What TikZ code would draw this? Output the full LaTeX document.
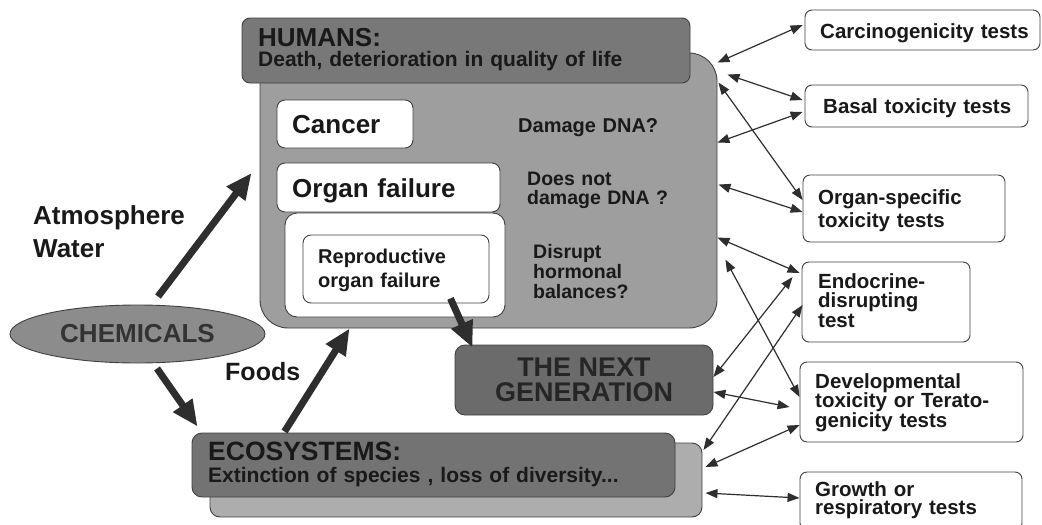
\documentclass[tikz,border=0pt]{standalone}
\usepackage{fontspec}
\setmainfont{Liberation Sans}
\usetikzlibrary{arrows.meta,shapes.geometric,positioning}
\newcommand{\fsz}[2]{\fontsize{#1}{#2}\selectfont\bfseries}
\begin{document}
\begin{tikzpicture}[x=1pt,y=-1pt,
  box/.style={draw=black!75,line width=0.9pt,rounded corners=8pt,inner sep=0pt},
  testbox/.style={box,fill=white,rounded corners=7pt},
  lbl/.style={inner sep=0pt,anchor=base west,text=black!90,align=left,text width=#1},
  lbl/.default=460pt,
  flow/.style={draw=black!82,line width=7pt,-{Triangle[length=26pt,width=22pt]}},
  link/.style={draw=black!82,line width=1.2pt,{Triangle[length=12pt,width=9pt]}-{Triangle[length=12pt,width=9pt]}}]
\useasboundingbox (0,0) rectangle (1042,525);
% humans
\node[box,fill=black!38,rounded corners=28pt,minimum width=457pt,minimum height=275pt] (body) at (488.5,190.5) {};
\node[box,fill=black!53,minimum width=448pt,minimum height=65pt] (head) at (466,50.5) {};
\node[lbl,font=\fsz{26}{28}] (headt) at (258,46) {HUMANS:};
\node[lbl,font=\fsz{21}{24}] (headd) at (258,66) {Death, deterioration in quality of life};
\node[box,fill=white,minimum width=136pt,minimum height=48pt] (cancer) at (345,124) {};
\node[lbl,font=\fsz{26}{28}] (cancert) at (292,133) {Cancer};
\node[box,fill=white,rounded corners=12pt,minimum width=220pt,minimum height=104pt] (reprout) at (395,265) {};
\node[box,fill=white,minimum width=223pt,minimum height=49pt] (organ) at (388.5,187.5) {};
\node[lbl,font=\fsz{26}{28}] (organt) at (292,197) {Organ failure};
\node[box,fill=white,minimum width=186pt,minimum height=68pt] (repro) at (396,269) {};
\node[lbl,font=\fsz{20}{24}] (reprot) at (318,263) {Reproductive\\organ failure};
\node[lbl,font=\fsz{20}{20}] (dna) at (518,132) {Damage DNA?};
\node[lbl,font=\fsz{19.5}{19}] (nodna) at (527,185) {Does not\\damage DNA ?};
\node[lbl,font=\fsz{19.5}{20}] (horm) at (533,258) {Disrupt\\hormonal\\balances?};
% sources
\node[ellipse,draw=black!75,line width=0.9pt,fill=black!45,minimum width=255pt,minimum height=58pt,inner sep=0pt,font=\fsz{26}{28},text=black!80] (chem) at (137.5,334) {CHEMICALS};
\node[lbl,font=\fsz{26}{33}] (air) at (33,224) {Atmosphere\\Water};
\node[lbl,font=\fsz{25}{28}] (foods) at (225,380) {Foods};
% next generation and ecosystems
\node[box,fill=black!58,rounded corners=10pt,minimum width=258pt,minimum height=70pt,align=center,font=\fsz{27}{25},text=black!85] (next) at (584,380) {THE NEXT\\GENERATION};
\node[box,fill=black!32,rounded corners=10pt,minimum width=492pt,minimum height=74pt] (ecoback) at (456,480) {};
\node[box,fill=black!55,rounded corners=10pt,minimum width=483pt,minimum height=64pt] (eco) at (433.5,465) {};
\node[lbl,font=\fsz{26.5}{28}] (ecot) at (208,460) {ECOSYSTEMS:};
\node[lbl,font=\fsz{21}{24}] (ecod) at (208,482) {Extinction of species , loss of diversity...};
% tests
\node[testbox,minimum width=235pt,minimum height=40pt] (carc) at (922.5,30) {};
\node[lbl,font=\fsz{20.5}{19.5}] (carct) at (820,38) {Carcinogenicity tests};
\node[testbox,minimum width=223pt,minimum height=42pt] (basal) at (916.5,106) {};
\node[lbl,font=\fsz{20.5}{19.5}] (basalt) at (823,113) {Basal toxicity tests};
\node[testbox,minimum width=202pt,minimum height=67pt] (organs) at (904,208.5) {};
\node[lbl,font=\fsz{20.5}{23}] (organst) at (818,204) {Organ-specific\\toxicity tests};
\node[testbox,minimum width=168pt,minimum height=80pt] (endo) at (886,302) {};
\node[lbl,font=\fsz{20.5}{19.5}] (endot) at (818,288) {Endocrine-\\disrupting\\test};
\node[testbox,minimum width=223pt,minimum height=80pt] (devel) at (911.5,402) {};
\node[lbl,font=\fsz{20.5}{19.5}] (develt) at (815,388) {Developmental\\toxicity or Terato-\\genicity tests};
\node[testbox,minimum width=222pt,minimum height=58pt] (growth) at (911,501) {};
\node[lbl,font=\fsz{20.5}{18.5}] (growtht) at (815,496) {Growth or\\respiratory tests};
% exposure routes
\draw[flow] ([shift={(20.5,-8)}]chem.north) -- ([shift={(-8,-17.5)}]body.west);
\draw[flow] ([shift={(19.5,5)}]chem.south) -- ([shift={(6,-6)}]eco.north west);
\draw[flow] ([shift={(93,-1)}]eco.north west) -- ([shift={(90,0)}]body.south west);
\draw[flow] ([shift={(-39,-5)}]repro.south east) -- ([shift={(18,3)}]next.north west);
% test links
\draw[link] ([shift={(0,10)}]body.north east) -- ([shift={(-2,-5)}]carc.west);
\draw[link] ([shift={(10,22)}]body.north east) -- ([shift={(-2,-6)}]basal.west);
\draw[link] ([shift={(1,30)}]body.north east) -- ([shift={(0,-8.5)}]organs.west);
\draw[link] ([shift={(0,90)}]body.north east) -- ([shift={(-2,6)}]basal.west);
\draw[link] ([shift={(1,132)}]body.north east) -- ([shift={(0,3.5)}]organs.west);
\draw[link] ([shift={(0,185)}]body.north east) -- ([shift={(-2,-29)}]endo.west);
\draw[link] ([shift={(8,207)}]body.north east) -- ([shift={(0,-5)}]devel.west);
\draw[link] ([shift={(0,-3)}]next.east) -- ([shift={(-9,-25)}]endo.west);
\draw[link] ([shift={(0,12)}]next.east) -- ([shift={(-10,5)}]devel.west);
\draw[link] ([shift={(1,-30)}]ecoback.east) -- ([shift={(1,3)}]endo.west);
\draw[link] ([shift={(3,-13)}]ecoback.east) -- ([shift={(0,23)}]devel.west);
\draw[link] ([shift={(3,13)}]ecoback.east) -- ([shift={(0,-3)}]growth.west);
\end{tikzpicture}
\end{document}
